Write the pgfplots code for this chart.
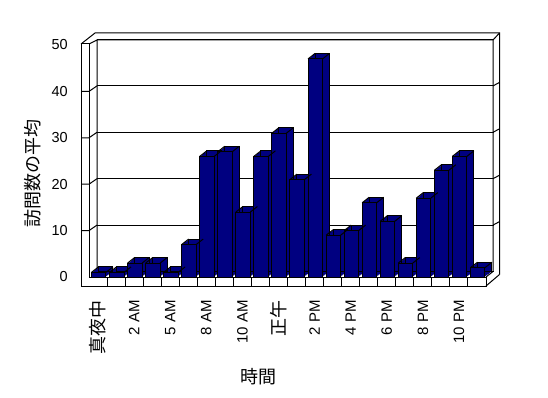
\documentclass[border=0pt]{standalone}
\usepackage{pgfplots}
\pgfplotsset{compat=1.18}
\usepackage{pgfplotstable}
\usepackage{fontspec}
\setmainfont{Liberation Sans}
\newfontfamily\cjk{Noto Sans CJK JP}
\definecolor{navy}{RGB}{0,0,128}
\newcommand{\J}[1]{{\cjk\fontsize{18pt}{18pt}\selectfont #1}}
\newcommand{\Lt}[1]{{\fontsize{15pt}{15pt}\selectfont #1}}

\pgfplotstableread{
x y
0 1
1 1
2 3
3 3
4 1
5 7
6 26
7 27
8 14
9 26
10 31
11 21
12 47
13 9
14 10
15 16
16 12
17 3
18 17
19 23
20 26
21 2
}\visits

\begin{document}
\begin{tikzpicture}
\fill[white] (0pt,0pt) rectangle (548pt,-398pt);
\path[use as bounding box] (0pt,0pt) rectangle (548pt,-398pt);
% back frame (walls)
\begin{scope}[x=1pt,y=1pt,line width=1pt]
\draw (81,-44) -- (81,-286);
\draw (81,-44) -- (95,-33) -- (499.5,-33) -- (499.5,-274.5);
\draw (81,-44) -- (89,-44) -- (89,-277);
\draw (89,-44) -- (97,-40) -- (97,-271.5);
\draw (97,-40) -- (493,-40) -- (499.5,-33);
\draw (493,-40) -- (493,-271.5) -- (486,-277);
\foreach \v in {10,20,30,40} {
  \draw (81,-277+4.64*\v) -- (89,-277+4.64*\v) -- (97,-271.5+4.64*\v);
  \draw (493,-271.5+4.64*\v) -- (499.5,-268+4.64*\v);
}
\end{scope}
\begin{axis}[at={(89pt,-277pt)}, anchor=south west, scale only axis,
  width=397pt, height=232pt,
  xmin=-0.5, xmax=21.5, ymin=0, ymax=50,
  axis line style={draw=none}, major tick length=0pt,
  ytick={0,10,...,50}, xtick={0,2,...,20},
  xticklabels={\J{真夜中},\Lt{2 AM},\Lt{5 AM},\Lt{8 AM},\Lt{10 AM},\J{正午},\Lt{2 PM},\Lt{4 PM},\Lt{6 PM},\Lt{8 PM},\Lt{10 PM}},
  xticklabel style={yshift=-23pt, rotate=90, anchor=east, inner sep=0pt},
  yticklabel style={inner sep=0pt, font=\fontsize{14.5pt}{14.5pt}\selectfont},
  yticklabel shift=21pt,
  /pgf/number format/assume math mode=true,
  ymajorgrids, grid style={black, line width=1pt, xshift=7.5pt, yshift=5.5pt},
  xlabel={時間}, ylabel={訪問数の平均},
  xlabel style={font=\cjk\fontsize{18pt}{18pt}\selectfont, at={(rel axis cs:0.4257,-0.431)}, anchor=center},
  ylabel style={font=\cjk\fontsize{18pt}{18pt}\selectfont, at={(rel axis cs:-0.141,0.448)}, anchor=center},
  clip=false,
  bar3d/.style={ybar, bar width=14.5pt, bar shift=0.7pt, fill=navy, line width=1pt},
]
\addplot[bar3d, draw=none, xshift=1pt, yshift=0.786pt] table[x=x,y=y]{\visits};
\addplot[bar3d, draw=none, xshift=2pt, yshift=1.571pt] table[x=x,y=y]{\visits};
\addplot[bar3d, draw=none, xshift=3pt, yshift=2.357pt] table[x=x,y=y]{\visits};
\addplot[bar3d, draw=none, xshift=4pt, yshift=3.143pt] table[x=x,y=y]{\visits};
\addplot[bar3d, draw=none, xshift=5pt, yshift=3.929pt] table[x=x,y=y]{\visits};
\addplot[bar3d, draw=none, xshift=6pt, yshift=4.714pt] table[x=x,y=y]{\visits};
\addplot[bar3d, draw=black, xshift=7pt, yshift=5.5pt] table[x=x,y=y]{\visits};
\addplot[bar3d, draw=black] table[x=x,y=y]{\visits};
\addplot[draw=black, line width=1pt, quiver={u=0.388, v=1.185}, -] table[x expr=\thisrow{x}-0.363, y=y]{\visits};
\addplot[draw=black, line width=1pt, quiver={u=0.388, v=1.185}, -] table[x expr=\thisrow{x}+0.441, y=y]{\visits};
\end{axis}
% front floor band
\begin{scope}[x=1pt,y=1pt,line width=1pt]
\fill[white] (89.5,-277.5) rectangle (486,-285.5);
\draw (89,-277) -- (486,-277) -- (486,-286) -- (81,-286);
\draw (486,-286) -- (499.5,-274.5);
\foreach \k in {1,...,21} { \draw (89+18.045*\k,-277) -- (89+18.045*\k,-286); }
\end{scope}
\end{tikzpicture}
\end{document}
